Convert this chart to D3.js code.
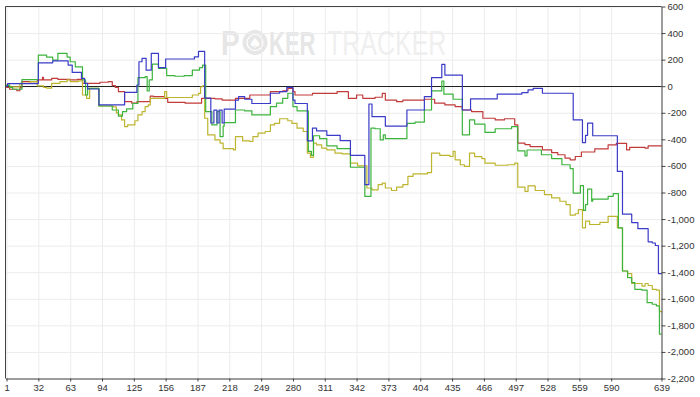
<!DOCTYPE html>
<html>
<head>
<meta charset="utf-8">
<script src="https://cdn.jsdelivr.net/npm/d3@7"></script>
<style>
  html, body { margin: 0; padding: 0; background: #ffffff; }
  svg { display: block; }
</style>
</head>
<body>
<svg id="chart" width="700" height="397"></svg>
<script>
// ---- data: [hand, cumulative value] breakpoints ----
const xTicks = [1, 32, 63, 94, 125, 156, 187, 218, 249, 280, 311, 342, 373, 404, 435, 466, 497, 528, 559, 590, 639];
const yTicks = [600, 400, 200, 0, -200, -400, -600, -800, -1000, -1200, -1400, -1600, -1800, -2000, -2200];

const blueSeries = [[0,0],[2,20],[32,176],[46,191],[61,159],[65,104],[74,59],[77,22],[80,-21],[91,-141],[116,-46],[128,9],[130,184],[133,209],[137,121],[142,247],[149,140],[156,205],[184,221],[188,262],[194,-89],[200,-277],[203,-180],[206,-277],[208,-180],[211,-277],[213,-173],[224,-104],[227,-79],[233,-98],[240,-130],[258,-53],[267,-41],[274,-8],[280,-104],[282,-130],[294,-411],[299,-316],[303,-336],[313,-370],[326,-410],[336,-520],[350,-741],[354,-134],[357,-229],[370,-300],[391,-179],[408,-79],[415,64],[425,164],[428,84],[445,-179],[453,-95],[479,-59],[503,-49],[509,-28],[514,-16],[523,-53],[553,-254],[562,-424],[565,-370],[567,-278],[572,-373],[596,-641],[601,-963],[610,-1026],[616,-1072],[626,-1171],[630,-1180],[633,-1199],[636,-1410],[639,-1412]];

const greenSeries = [[0,0],[1,8],[4,-8],[7,-23],[16,50],[32,234],[40,219],[46,197],[51,247],[60,219],[63,184],[68,146],[75,47],[78,-66],[80,-16],[91,-149],[104,-179],[110,-225],[114,-191],[118,-170],[124,-130],[129,64],[136,72],[138,-36],[140,47],[143,167],[149,134],[157,80],[165,75],[174,80],[182,121],[189,140],[192,159],[195,-191],[201,-291],[206,-191],[209,-379],[212,-300],[213,-274],[224,-179],[233,-185],[240,-216],[258,-154],[264,-128],[270,-91],[275,-53],[280,-154],[284,-185],[295,-491],[298,-520],[300,-373],[306,-395],[313,-449],[323,-470],[336,-610],[350,-829],[356,-316],[360,-320],[365,-404],[368,-366],[370,-395],[391,-279],[399,-270],[408,-179],[415,-35],[425,39],[427,-60],[436,-98],[445,-366],[452,-254],[457,-285],[467,-347],[477,-320],[493,-304],[499,-486],[506,-524],[508,-480],[522,-516],[532,-545],[542,-591],[550,-620],[553,-804],[560,-749],[563,-935],[565,-891],[567,-774],[571,-866],[572,-850],[587,-829],[592,-809],[597,-1066],[601,-1391],[606,-1441],[610,-1478],[613,-1529],[620,-1535],[625,-1629],[630,-1641],[634,-1654],[637,-1866],[639,-1866]];

const redSeries = [[0,0],[1,-8],[4,-23],[11,-34],[14,-10],[16,34],[31,47],[36,67],[37,47],[45,59],[51,52],[63,47],[70,52],[75,22],[92,30],[100,34],[104,5],[107,-9],[110,-41],[116,-116],[123,-128],[128,-116],[141,-74],[144,-79],[155,-91],[158,-121],[175,-128],[191,-91],[204,-95],[211,-104],[224,-91],[238,-66],[258,-41],[270,-34],[275,-16],[280,-41],[282,-66],[299,-54],[313,-54],[323,-41],[334,-91],[342,-66],[348,-91],[360,-83],[367,-54],[370,-104],[381,-116],[387,-104],[408,-98],[418,-128],[428,-141],[438,-154],[445,-179],[454,-191],[465,-241],[477,-254],[486,-245],[496,-291],[499,-428],[506,-440],[511,-454],[523,-479],[532,-500],[538,-516],[545,-541],[550,-554],[555,-529],[561,-495],[574,-472],[587,-441],[595,-430],[605,-479],[608,-461],[623,-466],[626,-449],[639,-452]];

const yellowSeries = [[0,0],[1,9],[4,-5],[14,22],[24,34],[31,2],[37,-8],[40,-15],[45,22],[53,34],[60,47],[63,34],[71,40],[75,-66],[79,-91],[82,-16],[91,-149],[105,-155],[108,-200],[110,-216],[113,-254],[116,-304],[119,-291],[126,-260],[129,-216],[133,-191],[136,-154],[139,-141],[141,-91],[155,-41],[157,-85],[182,-66],[188,-54],[190,-4],[192,2],[194,-241],[197,-366],[204,-404],[209,-428],[212,-470],[222,-479],[224,-379],[231,-412],[238,-416],[241,-379],[246,-353],[253,-341],[258,-291],[262,-279],[267,-245],[275,-260],[279,-280],[284,-316],[290,-341],[294,-504],[297,-535],[300,-428],[303,-441],[308,-466],[313,-479],[321,-504],[328,-510],[336,-579],[343,-600],[352,-766],[357,-780],[363,-741],[367,-729],[370,-766],[376,-785],[381,-760],[387,-741],[392,-679],[397,-660],[411,-650],[415,-504],[423,-520],[433,-529],[436,-491],[438,-554],[443,-591],[447,-604],[452,-504],[457,-530],[464,-545],[467,-579],[477,-595],[489,-591],[496,-579],[499,-760],[506,-791],[509,-750],[516,-785],[525,-816],[532,-841],[540,-866],[546,-891],[550,-970],[555,-960],[558,-929],[562,-1066],[565,-1016],[569,-1041],[579,-1025],[587,-979],[596,-1066],[601,-1391],[606,-1410],[610,-1485],[620,-1504],[623,-1485],[626,-1500],[630,-1529],[634,-1535],[637,-1695],[639,-1704]];

const seriesList = [
  { name: "red", data: redSeries, color: "#c23b3b" },
  { name: "yellow", data: yellowSeries, color: "#bdb52e" },
  { name: "green", data: greenSeries, color: "#3cb43c" },
  { name: "blue", data: blueSeries, color: "#3b3bc8" }
];

// ---- layout ----
const W = 700, H = 397;
const plot = { left: 5.5, right: 661.5, top: 6.5, bottom: 378.5 };
const svg = d3.select("#chart");

const x = d3.scaleLinear().domain([0, 639]).range([plot.left, plot.right]);
const y = d3.scaleLinear().domain([-2200, 600]).range([plot.bottom, plot.top]);

// watermark (narrow glyphs via vertical stretch so words do not overlap)
const wm = svg.append("g").attr("class", "watermark");
wm.append("text").attr("transform", "translate(221,55) scale(1,1.25)")
  .attr("font-family", "Liberation Sans, Arial, sans-serif")
  .attr("font-weight", "bold").attr("font-size", 28).attr("fill", "#e6e6e6").text("P");
wm.append("circle").attr("cx", 255).attr("cy", 42.5).attr("r", 12.5).attr("fill", "#e6e6e6");
wm.append("circle").attr("cx", 255).attr("cy", 42.5).attr("r", 8).attr("fill", "none").attr("stroke", "#ffffff").attr("stroke-width", 1.2);
wm.append("text").attr("x", 255).attr("y", 47.5).attr("text-anchor", "middle").attr("font-size", 14)
  .attr("font-family", "DejaVu Sans, sans-serif").attr("fill", "#ffffff").text("\u2660");
wm.append("text").attr("transform", "translate(269,55) scale(1,1.55)")
  .attr("font-family", "Liberation Sans, Arial, sans-serif")
  .attr("font-weight", "bold").attr("font-size", 22).attr("fill", "#e6e6e6").text("KER");
wm.append("text").attr("transform", "translate(327,55) scale(1,1.38)")
  .attr("font-family", "Liberation Sans, Arial, sans-serif")
  .attr("font-size", 25).attr("fill", "#efefef").text("TRACKER");

// grid lines
const grid = svg.append("g").attr("class", "grid");
grid.append("g")
  .attr("transform", `translate(0,${plot.bottom})`)
  .call(d3.axisBottom(x).tickValues(xTicks).tickSize(-(plot.bottom - plot.top)).tickFormat(""))
  .call(g => g.select(".domain").remove())
  .call(g => g.selectAll("line").attr("stroke", "#ececec"));
grid.append("g")
  .attr("transform", `translate(${plot.left},0)`)
  .call(d3.axisLeft(y).tickValues(yTicks).tickSize(-(plot.right - plot.left)).tickFormat(""))
  .call(g => g.select(".domain").remove())
  .call(g => g.selectAll("line").attr("stroke", "#ececec"));

// zero line
svg.append("line")
  .attr("x1", plot.left).attr("x2", plot.right)
  .attr("y1", Math.round(y(0)) + 0.5).attr("y2", Math.round(y(0)) + 0.5)
  .attr("stroke", "#222").attr("stroke-width", 1);

// series lines
const line = d3.line().x(d => x(d[0])).y(d => y(d[1])).curve(d3.curveStepAfter);
svg.append("g").attr("class", "series")
  .selectAll("path").data(seriesList).join("path")
  .attr("d", d => line(d.data))
  .attr("fill", "none")
  .attr("stroke", d => d.color)
  .attr("stroke-width", 1.2)
  .attr("stroke-linejoin", "round");

// frame: top and left borders
svg.append("line").attr("x1", plot.left).attr("x2", plot.right).attr("y1", plot.top).attr("y2", plot.top)
  .attr("stroke", "#444").attr("stroke-width", 1);
svg.append("line").attr("x1", plot.left).attr("x2", plot.left).attr("y1", plot.top).attr("y2", plot.bottom)
  .attr("stroke", "#444").attr("stroke-width", 1);

// axes
const fmt = d => d3.format(",")(d).replace("\u2212", "-");
const xAxis = svg.append("g")
  .attr("transform", `translate(0,${plot.bottom})`)
  .call(d3.axisBottom(x).tickValues(xTicks).tickSize(3).tickSizeOuter(0).tickPadding(3));
const yAxis = svg.append("g")
  .attr("transform", `translate(${plot.right},0)`)
  .call(d3.axisRight(y).tickValues(yTicks).tickSize(4).tickSizeOuter(0).tickPadding(2).tickFormat(fmt));

[xAxis, yAxis].forEach(a => {
  a.select(".domain").attr("stroke", "#444");
  a.selectAll(".tick line").attr("stroke", "#444");
  a.selectAll(".tick text")
    .attr("font-family", "Liberation Sans, Arial, sans-serif")
    .attr("font-size", 9.5)
    .attr("fill", "#333");
});
</script>
</body>
</html>
